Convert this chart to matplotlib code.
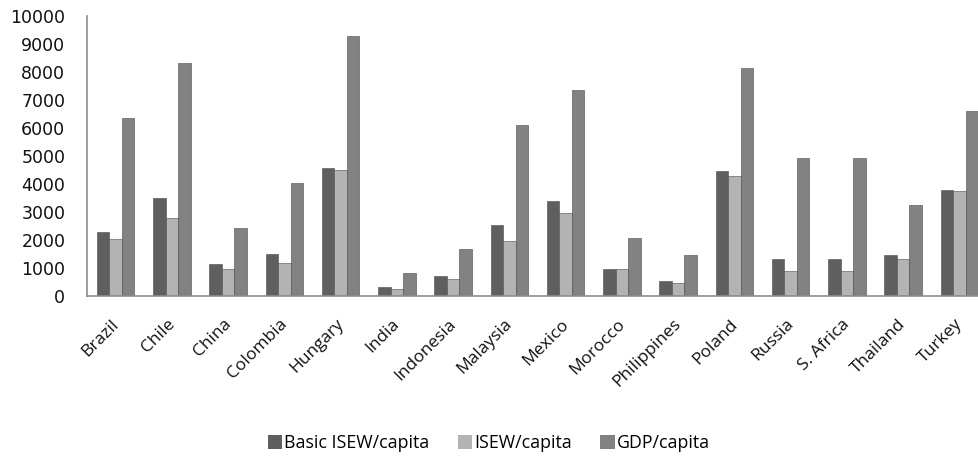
import matplotlib
matplotlib.use("Agg")
import matplotlib.pyplot as plt
import numpy as np

countries = ["Brazil", "Chile", "China", "Colombia", "Hungary", "India",
             "Indonesia", "Malaysia", "Mexico", "Morocco", "Philippines",
             "Poland", "Russia", "S. Africa", "Thailand", "Turkey"]
basic_isew = [2280, 3510, 1130, 1490, 4570, 310, 710, 2550, 3380, 950,
              540, 4450, 1310, 1310, 1480, 3800]
isew = [2020, 2790, 950, 1190, 4510, 240, 600, 1960, 2980, 950,
        480, 4270, 890, 890, 1310, 3740]
gdp = [6360, 8320, 2440, 4050, 9270, 830, 1670, 6120, 7370, 2080,
       1480, 8130, 4930, 4930, 3260, 6600]

series = [("Basic ISEW/capita", basic_isew, "#5f5f5f"),
          ("ISEW/capita", isew, "#b3b3b3"),
          ("GDP/capita", gdp, "#828282")]

W, H = 979, 457
fig = plt.figure(figsize=(W / 100, H / 100), dpi=100)
left_px, right_px, top_px, bottom_px = 87.5, 987.5, 16, 296
ax = fig.add_axes([left_px / W, (H - bottom_px) / H,
                   (right_px - left_px) / W, (bottom_px - top_px) / H])

x = np.arange(len(countries))
bw = 0.222
for i, (name, vals, col) in enumerate(series):
    ax.bar(x + (i - 1) * bw, vals, width=bw, color=col, edgecolor="#4a4a4a",
           linewidth=0.4, label=name, zorder=2)

ax.set_xlim(-0.5, len(countries) - 0.5)
ax.set_ylim(0, 10000)
ax.set_yticks(np.arange(0, 10001, 1000))
ax.tick_params(axis="y", length=0, pad=16, labelsize=12.5)
for t in ax.get_yticklabels():
    t.set_fontfamily("DejaVu Sans")
    t.set_color("#111111")

ax.set_xticks(x - 0.09)
ax.set_xticklabels(countries, rotation=45, ha="right", va="top",
                   rotation_mode="anchor", fontsize=12.5, family="Open Sans",
                   color="#111111")
ax.tick_params(axis="x", length=0, pad=14.5)

for s in ["top", "right"]:
    ax.spines[s].set_visible(False)
for s in ["left", "bottom"]:
    ax.spines[s].set_color("#8c8c8c")
    ax.spines[s].set_linewidth(1.2)

leg = fig.legend(loc="center", bbox_to_anchor=(489 / W, 1 - 443 / H), ncol=3,
                 frameon=False, prop={"family": "Open Sans", "size": 12.8},
                 handlelength=0.8, handleheight=0.8, handletextpad=0.15,
                 columnspacing=1.58)
for h in leg.legend_handles:
    h.set_linewidth(0)

fig.savefig("out.png", dpi=100, facecolor="white")
